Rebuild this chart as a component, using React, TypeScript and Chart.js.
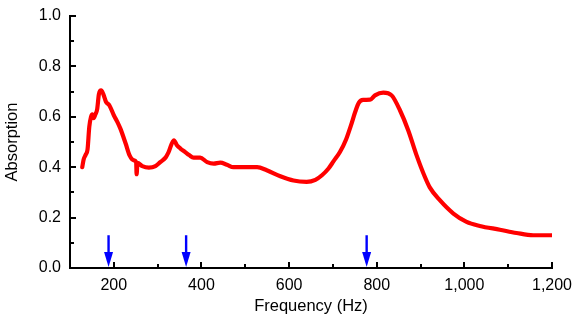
import React, { useEffect, useRef } from "react";
import { Chart, registerables } from "chart.js";

Chart.register(...registerables);

const frequency = [
  128, 131, 136, 140, 144, 148, 151, 154, 158, 162, 166, 171, 176, 182, 190, 200,
  208, 215, 227, 236, 246, 251, 252, 254, 265, 280, 295, 306, 318, 325, 337, 344,
  352, 363, 372, 382, 397, 413, 428, 443, 458, 473, 504, 527, 549, 580, 610, 640,
  660, 675, 690, 702, 716, 730, 741, 751, 759, 769, 785, 796, 815, 834, 853, 872, 891,
  910, 921, 944, 975, 1005, 1035, 1081, 1119, 1157, 1200,
];
const absorption = [
  0.4, 0.43, 0.45, 0.47, 0.56, 0.6, 0.61, 0.595, 0.61, 0.63, 0.69, 0.705, 0.69, 0.66, 0.645, 0.606,
  0.58, 0.553, 0.494, 0.447, 0.427, 0.42, 0.372, 0.417, 0.404, 0.398, 0.404, 0.42, 0.438, 0.46, 0.507, 0.487,
  0.474, 0.46, 0.448, 0.438, 0.438, 0.42, 0.414, 0.418, 0.41, 0.4, 0.4, 0.4, 0.388, 0.364, 0.347, 0.342,
  0.35, 0.368, 0.395, 0.425, 0.46, 0.51, 0.565, 0.62, 0.655, 0.667, 0.668, 0.685, 0.696, 0.685, 0.626, 0.546, 0.447,
  0.361, 0.32, 0.269, 0.216, 0.183, 0.167, 0.152, 0.139, 0.13, 0.13,
];

const xMajorTicks = [200, 400, 600, 800, 1000, 1200];
const xMinorTicks = [300, 500, 700, 900, 1100];
const yMajorTicks = [0, 0.2, 0.4, 0.6, 0.8, 1.0];
const yMinorTicks = [0.1, 0.3, 0.5, 0.7, 0.9];

const arrowFrequencies = [188, 365, 777];
const arrowTopValue = 0.13;

const xTitle = "Frequency (Hz)";
const yTitle = "Absorption";

const FONT = "'Liberation Sans', Arial, Helvetica, sans-serif";

const overlayPlugin = {
  id: "overlay",
  afterDraw(chart: any) {
    const ctx = chart.ctx;
    const xs = chart.scales.x;
    const ys = chart.scales.y;
    const area = chart.chartArea;
    ctx.save();
    ctx.strokeStyle = "#000";
    ctx.lineWidth = 2;
    const xLine = (v: number, len: number) => {
      const px = Math.round(xs.getPixelForValue(v));
      ctx.beginPath();
      ctx.moveTo(px, area.bottom);
      ctx.lineTo(px, area.bottom - len);
      ctx.stroke();
    };
    const yLine = (v: number, len: number) => {
      const py = Math.round(ys.getPixelForValue(v));
      ctx.beginPath();
      ctx.moveTo(area.left, py);
      ctx.lineTo(area.left + len, py);
      ctx.stroke();
    };
    xMajorTicks.forEach((v) => xLine(v, 6));
    xMinorTicks.forEach((v) => xLine(v, 4));
    yMajorTicks.forEach((v) => yLine(v, 6));
    yMinorTicks.forEach((v) => yLine(v, 4));

    // arrows
    ctx.strokeStyle = "#0000ff";
    ctx.fillStyle = "#0000ff";
    arrowFrequencies.forEach((f) => {
      const px = xs.getPixelForValue(f);
      const top = ys.getPixelForValue(arrowTopValue);
      const tip = ys.getPixelForValue(0) - 1;
      const headStart = tip - 15;
      ctx.lineWidth = 2.4;
      ctx.beginPath();
      ctx.moveTo(px, top);
      ctx.lineTo(px, headStart + 2);
      ctx.stroke();
      ctx.beginPath();
      ctx.moveTo(px - 4.5, headStart);
      ctx.lineTo(px + 4.5, headStart);
      ctx.lineTo(px, tip);
      ctx.closePath();
      ctx.fill();
    });
    ctx.restore();
  },
};

export default function App() {
  const canvasRef = useRef<HTMLCanvasElement | null>(null);

  useEffect(() => {
    if (!canvasRef.current) return;
    const points = frequency.map((f, i) => ({ x: f, y: absorption[i] }));
    const chart = new Chart(canvasRef.current, {
      type: "line",
      data: {
        datasets: [
          {
            data: points,
            borderColor: "#ff0000",
            borderWidth: 4.2,
            borderJoinStyle: "round",
            borderCapStyle: "round",
            pointRadius: 0,
            fill: false,
            cubicInterpolationMode: "monotone",
          },
        ],
      },
      options: {
        animation: false,
        responsive: false,
        devicePixelRatio: 1,
        layout: { padding: { top: 16, right: 23, left: 0, bottom: 0 } },
        plugins: { legend: { display: false }, tooltip: { enabled: false } },
        scales: {
          x: {
            type: "linear",
            min: 100,
            max: 1200,
            afterBuildTicks: (scale: any) => {
              scale.ticks = xMajorTicks.map((v) => ({ value: v }));
            },
            afterFit: (scale: any) => {
              scale.height = 52;
              scale.paddingLeft = 0;
              scale.paddingRight = 0;
            },
            grid: { drawOnChartArea: false, drawTicks: false },
            border: { display: true, color: "#000", width: 2 },
            ticks: {
              color: "#000",
              padding: 8,
              font: { family: FONT, size: 16 },
              maxRotation: 0,
              callback: (v: any) => Number(v).toLocaleString("en-US"),
            },
            title: {
              display: true,
              text: xTitle,
              color: "#000",
              font: { family: FONT, size: 16.5 },
              padding: { top: 0, bottom: 4 },
            },
          },
          y: {
            type: "linear",
            min: 0,
            max: 1,
            afterBuildTicks: (scale: any) => {
              scale.ticks = yMajorTicks.map((v) => ({ value: v }));
            },
            afterFit: (scale: any) => {
              scale.width = 70;
              scale.paddingTop = 0;
              scale.paddingBottom = 0;
            },
            grid: { drawOnChartArea: false, drawTicks: false },
            border: { display: true, color: "#000", width: 2 },
            ticks: {
              color: "#000",
              padding: 9,
              font: { family: FONT, size: 16 },
              callback: (v: any) => Number(v).toFixed(1),
            },
            title: {
              display: true,
              text: yTitle,
              color: "#000",
              font: { family: FONT, size: 16.5 },
              padding: { top: 3, bottom: 0 },
            },
          },
        },
      },
      plugins: [overlayPlugin],
    });
    return () => chart.destroy();
  }, []);

  return (
    <div style={{ position: "absolute", left: 0, top: 0, width: 575, height: 320, background: "#fff" }}>
      <canvas ref={canvasRef} width={575} height={320} />
    </div>
  );
}
